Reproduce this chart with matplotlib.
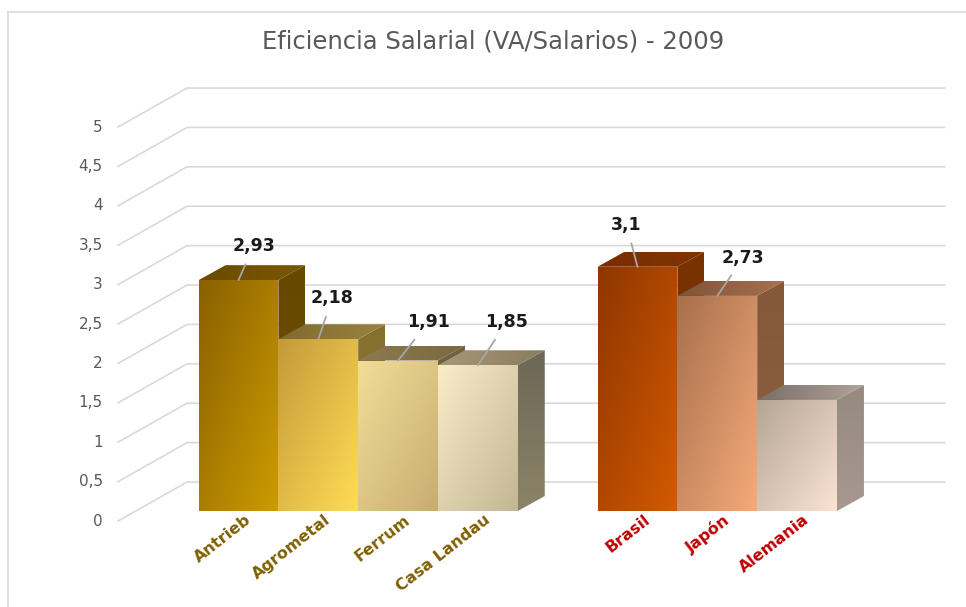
import numpy as np
import matplotlib
matplotlib.use("Agg")
import matplotlib.pyplot as plt
from matplotlib.patches import Polygon
from matplotlib.lines import Line2D
from matplotlib.colors import LinearSegmentedColormap

# data
categories = ['Antrieb', 'Agrometal', 'Ferrum', 'Casa Landau', 'Brasil', 'Japón', 'Alemania']
groups = [0, 0, 0, 0, 1, 1, 1]          # companies / countries (one empty slot between)
values = [2.93, 2.18, 1.91, 1.85, 3.1, 2.73, 1.41]
value_labels = ['2,93', '2,18', '1,91', '1,85', '3,1', '2,73', None]
y_ticks = [0, 0.5, 1, 1.5, 2, 2.5, 3, 3.5, 4, 4.5, 5]
y_tick_labels = ['0', '0,5', '1', '1,5', '2', '2,5', '3', '3,5', '4', '4,5', '5']

# colours: front (top-left, bottom-right), top (left, right), side (top, bottom)
front_cols = [('#8A6000', '#CC9C00'), ('#C49A3A', '#FFDC55'), ('#F2DD98', '#C8AD72'),
              ('#F8EDC8', '#C4B794'), ('#8E3600', '#D45A00'), ('#A8704C', '#F5AA7A'),
              ('#B5A595', '#FBE3D3')]
top_cols = [('#6A4A00', '#7A5800'), ('#7F6A30', '#9A8240'), ('#8C7A50', '#7A6840'),
            ('#A89878', '#8A7C60'), ('#7A2E00', '#7E3400'), ('#7E5438', '#A87050'),
            ('#7A6E68', '#B0A298')]
side_cols = [('#664800', '#6E5000'), ('#857030', '#8A7434'), ('#6E6040', '#7A6C48'),
             ('#6C6756', '#8C8468'), ('#783200', '#7E3600'), ('#845838', '#8E6044'),
             ('#968A80', '#A89890')]
cat_colors = ['#7F6000'] * 4 + ['#C00000'] * 3

# label offsets (points) for the data labels
label_offsets = [(10.8, 24.5), (10, 29.5), (21.6, 27.4), (20.9, 31), (-7.9, 30.2), (18.7, 27.4), None]

positions = [i + g for i, g in enumerate(groups)]

# 3d-look parameters (data units)
bar_w = 1.0
ddx, ddy = 0.338, 0.19        # bar depth
fx, fy = -1.51, -0.127        # front-left floor corner offset
bx, by = -0.645, 0.368        # back wall corner
wall_right = 8.85


def grad_fill(ax, verts, c1, c2, wx, wy, z):
    verts = np.array(verts)
    x0, x1 = verts[:, 0].min(), verts[:, 0].max()
    y0, y1 = verts[:, 1].min(), verts[:, 1].max()
    u = np.linspace(0, 1, 64)
    X, Y = np.meshgrid(u, u)
    t = wx * X + wy * (1 - Y)
    t = (t - t.min()) / (t.max() - t.min() + 1e-9)
    cmap = LinearSegmentedColormap.from_list('g', [c1, c2])
    im = ax.imshow(t, cmap=cmap, extent=[x0, x1, y0, y1], origin='lower',
                   aspect='auto', interpolation='bilinear', zorder=z)
    poly = Polygon(verts, closed=True, facecolor='none', edgecolor='none', zorder=z)
    ax.add_patch(poly)
    im.set_clip_path(poly)


fig = plt.figure(figsize=(9.66, 6.07), dpi=100)
ax = fig.add_axes([0, 0, 1, 1])
ax.set_axis_off()

# gridlines (floor diagonal + back wall)
for v, lab in zip(y_ticks, y_tick_labels):
    ax.plot([fx, bx, wall_right], [v + fy, v + by, v + by], color='#D9D9D9', lw=1.2, zorder=1)
    ax.text(fx - 0.19, v + fy, lab, ha='right', va='center', fontsize=11, color='#595959')

# bars
for i, (p, v) in enumerate(zip(positions, values)):
    l, r = p - bar_w / 2, p + bar_w / 2
    z = 3 + i * 0.1
    side = [(r, 0), (r + ddx, ddy), (r + ddx, v + ddy), (r, v)]
    top = [(l, v), (r, v), (r + ddx, v + ddy), (l + ddx, v + ddy)]
    front = [(l, 0), (r, 0), (r, v), (l, v)]
    grad_fill(ax, side, side_cols[i][0], side_cols[i][1], 0, 1, z)
    grad_fill(ax, top, top_cols[i][0], top_cols[i][1], 1, 0, z + 0.01)
    grad_fill(ax, front, front_cols[i][0], front_cols[i][1], 1, 1, z + 0.02)

    if value_labels[i]:
        ax.annotate(value_labels[i], xy=(p, v), xytext=label_offsets[i],
                    textcoords='offset points', ha='center', va='center',
                    fontsize=12.5, fontweight='bold', color='#1A1A1A', zorder=10,
                    arrowprops=dict(arrowstyle='-', color='#A6A6A6', lw=1.3,
                                    shrinkA=5, shrinkB=0))
    ax.text(p + 0.13, -0.09, categories[i], rotation=38, rotation_mode='anchor',
            ha='right', va='center', fontsize=11.5, fontweight='bold',
            color=cat_colors[i], zorder=10)

ax.set_xlim(-2.989, 9.117)
ax.set_ylim(-1.218, 6.485)

fig.text(493 / 966, 1 - 42 / 607, 'Eficiencia Salarial (VA/Salarios) - 2009',
         ha='center', va='center', fontsize=17.5, color='#595959')

# chart border
fig.add_artist(Line2D([8 / 966, 8 / 966], [0, 1 - 12 / 607], transform=fig.transFigure,
                      color='#D9D9D9', lw=1.2))
fig.add_artist(Line2D([8 / 966, 1], [1 - 12 / 607, 1 - 12 / 607], transform=fig.transFigure,
                      color='#D9D9D9', lw=1.2))

fig.savefig('out.png', dpi=100)
